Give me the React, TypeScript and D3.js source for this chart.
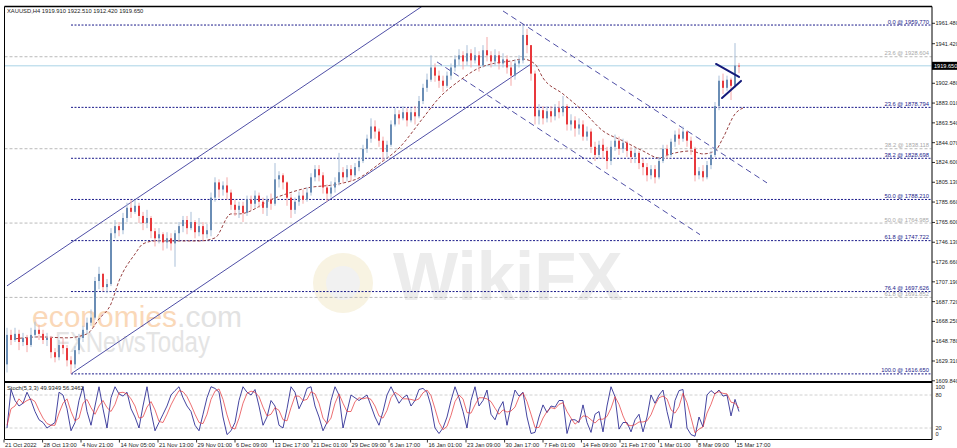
import React from 'react';
import * as d3 from 'd3';

const W = 957;
const H = 448;

const headerText = 'XAUUSD,H4  1919.910 1922.510 1912.420 1919.650';
const stochText = 'Stoch(5,3,3) 49.9349 56.3462';

const firstOpen = 1626;
const closes = [
  1655, 1650, 1656, 1648, 1652, 1645, 1655, 1660, 1656, 1650,
  1652, 1638, 1633, 1645, 1642, 1630, 1626, 1640, 1652, 1660,
  1667, 1672, 1708, 1715, 1702, 1705, 1755, 1762, 1758, 1770,
  1780, 1776, 1782, 1772, 1765, 1770, 1757, 1750, 1754, 1746,
  1750, 1745, 1755, 1762, 1768, 1760, 1766, 1756, 1762, 1754,
  1758, 1790, 1805, 1798, 1802, 1795, 1783, 1778, 1782, 1775,
  1788, 1784, 1792, 1786, 1780, 1788, 1784, 1808, 1812, 1805,
  1790, 1778, 1786, 1792, 1788, 1795, 1810, 1818, 1812, 1800,
  1794, 1800, 1805, 1815, 1810, 1818, 1812, 1820, 1826, 1838,
  1848, 1860, 1855, 1846, 1835, 1842, 1862, 1872, 1868, 1874,
  1866, 1874, 1870, 1885, 1898, 1906, 1918, 1910, 1905, 1900,
  1910, 1918, 1926, 1930, 1924, 1932, 1925, 1930, 1920, 1935,
  1930, 1924, 1930, 1922, 1926, 1918, 1910, 1922, 1925, 1950,
  1940, 1912, 1870, 1876, 1868, 1875, 1870, 1878, 1874, 1880,
  1862, 1866, 1858, 1862, 1850, 1855, 1840, 1832, 1842, 1836,
  1826, 1840, 1846, 1838, 1844, 1836, 1830, 1834, 1824, 1820,
  1812, 1818, 1810, 1826, 1838, 1832, 1845, 1852, 1848, 1855,
  1846, 1838, 1812, 1816, 1810, 1822, 1832, 1880, 1905, 1898,
  1906, 1900, 1919.91, 1919.65,
];
const highs = [
  1662, 1660, 1662, 1660, 1657, 1655, 1662, 1668, 1665, 1660,
  1657, 1654, 1642, 1650, 1652, 1645, 1634, 1644, 1656, 1664,
  1672, 1680, 1712, 1722, 1716, 1710, 1760, 1768, 1766, 1775,
  1785, 1788, 1788, 1785, 1776, 1778, 1772, 1760, 1760, 1756,
  1756, 1755, 1758, 1766, 1772, 1772, 1776, 1768, 1770, 1766,
  1764, 1795, 1810, 1808, 1806, 1810, 1798, 1788, 1786, 1786,
  1792, 1792, 1797, 1795, 1790, 1792, 1794, 1824, 1816, 1814,
  1806, 1794, 1790, 1796, 1798, 1800, 1814, 1822, 1822, 1815,
  1803, 1806, 1810, 1834, 1820, 1822, 1822, 1824, 1830, 1842,
  1852, 1868, 1866, 1858, 1850, 1846, 1866, 1878, 1876, 1880,
  1878, 1878, 1880, 1890, 1902, 1912, 1930, 1922, 1915, 1910,
  1914, 1922, 1930, 1936, 1934, 1940, 1936, 1938, 1934, 1940,
  1948, 1934, 1936, 1934, 1932, 1930, 1924, 1926, 1930, 1959.77,
  1956, 1940, 1915, 1882, 1880, 1880, 1880, 1882, 1885, 1890,
  1882, 1872, 1870, 1868, 1866, 1860, 1858, 1845, 1846, 1848,
  1840, 1846, 1852, 1850, 1848, 1846, 1840, 1838, 1836, 1828,
  1824, 1822, 1822, 1830, 1842, 1842, 1848, 1856, 1858, 1860,
  1856, 1850, 1840, 1820, 1822, 1826, 1836, 1884, 1910, 1912,
  1910, 1908, 1942, 1922.51,
];
const lows = [
  1618, 1645, 1648, 1640, 1644, 1638, 1643, 1652, 1650, 1646,
  1644, 1632, 1628, 1630, 1636, 1624, 1616.65, 1622, 1636, 1648,
  1656, 1664, 1670, 1700, 1698, 1696, 1703, 1750, 1752, 1754,
  1766, 1770, 1774, 1765, 1758, 1760, 1750, 1742, 1745, 1738,
  1740, 1738, 1722, 1748, 1756, 1754, 1758, 1750, 1752, 1748,
  1750, 1752, 1786, 1790, 1792, 1788, 1778, 1772, 1770, 1766,
  1772, 1778, 1780, 1780, 1774, 1772, 1778, 1782, 1800, 1798,
  1782, 1770, 1774, 1782, 1784, 1786, 1792, 1806, 1806, 1794,
  1786, 1790, 1795, 1802, 1804, 1806, 1806, 1810, 1816, 1824,
  1834, 1844, 1848, 1840, 1826, 1828, 1840, 1860, 1862, 1866,
  1860, 1864, 1862, 1868, 1882, 1894, 1904, 1904, 1898, 1894,
  1898, 1906, 1914, 1920, 1916, 1920, 1918, 1922, 1914, 1918,
  1924, 1918, 1920, 1916, 1918, 1912, 1900, 1906, 1918, 1922,
  1932, 1905, 1862, 1862, 1862, 1864, 1864, 1866, 1868, 1870,
  1856, 1856, 1850, 1852, 1846, 1846, 1834, 1826, 1828, 1828,
  1818, 1822, 1836, 1832, 1834, 1830, 1824, 1824, 1818, 1812,
  1806, 1808, 1804, 1808, 1824, 1828, 1830, 1840, 1842, 1845,
  1840, 1832, 1806, 1808, 1806, 1808, 1818, 1830, 1876, 1892,
  1895, 1886, 1898, 1912.42,
];

// moving average
const maIndex = [2, 8, 15, 20, 23, 26, 28, 32, 34, 37, 42, 48, 52, 56, 58, 67, 75, 83, 88, 93, 98, 104, 108, 113, 118, 121, 126, 129, 132, 134, 139, 144, 149, 154, 159, 163, 166, 171, 174, 177, 179, 182, 184];
const maValue = [1651.1, 1653.0, 1652.1, 1656.0, 1670.7, 1685.5, 1708.1, 1734.6, 1744.5, 1747.4, 1747.4, 1747.4, 1750.4, 1774.0, 1774.0, 1789.7, 1799.5, 1803.5, 1809.4, 1823.1, 1838.8, 1868.3, 1888.0, 1904.7, 1917.5, 1921.4, 1924.4, 1926.3, 1921.4, 1907.7, 1892.0, 1875.2, 1855.6, 1845.8, 1835.9, 1829.1, 1833.0, 1835.9, 1833.0, 1835.9, 1848.7, 1872.3, 1878.2];

const stochMain = [
  20, 90, 70, 60, 65, 85, 70, 50, 35, 30,
  20, 25, 30, 85, 80, 55, 15, 30, 70, 95,
  50, 25, 60, 95, 55, 20, 75, 95, 82, 78,
  85, 55, 40, 20, 60, 95, 50, 15, 30, 45,
  60, 80, 88, 95, 75, 60, 50, 25, 15, 45,
  75, 95, 92, 85, 40, 8, 15, 30, 70, 95,
  85, 80, 90, 60, 25, 40, 70, 60, 25, 20,
  55, 95, 85, 55, 70, 92, 95, 60, 40, 15,
  30, 70, 95, 80, 20, 50, 80, 75, 70, 75,
  80, 60, 40, 25, 50, 80, 95, 80, 65, 75,
  80, 60, 70, 90, 92, 85, 60, 20, 10, 20,
  40, 70, 95, 75, 50, 20, 70, 95, 60, 70,
  89, 45, 35, 55, 68, 25, 60, 89, 78, 85,
  40, 10, 12, 40, 62, 48, 60, 58, 70, 70,
  10, 35, 35, 30, 62, 30, 12, 45, 50, 13,
  60, 95, 77, 18, 30, 30, 13, 35, 45, 13,
  40, 80, 65, 80, 89, 50, 20, 70, 88, 90,
  20, 8, 5, 40, 22, 80, 88, 82, 89, 78,
  80, 42, 72, 49.93,
];
const stochSignal = [
  25, 55, 60, 73, 65, 70, 73, 68, 52, 38,
  28, 25, 25, 47, 65, 73, 50, 33, 38, 65,
  72, 57, 45, 60, 70, 57, 50, 63, 84, 85,
  82, 73, 60, 38, 40, 58, 68, 53, 32, 30,
  45, 62, 76, 88, 86, 77, 62, 45, 30, 28,
  45, 72, 87, 91, 72, 44, 21, 18, 38, 65,
  83, 87, 85, 77, 58, 42, 45, 57, 52, 35,
  33, 57, 78, 78, 70, 72, 86, 82, 65, 38,
  28, 38, 65, 82, 65, 50, 50, 68, 75, 73,
  75, 72, 60, 42, 38, 52, 75, 85, 80, 73,
  73, 72, 70, 73, 84, 89, 79, 55, 30, 17,
  23, 43, 68, 80, 73, 48, 47, 62, 75, 75,
  73, 68, 56, 45, 53, 49, 51, 58, 76, 84,
  68, 45, 21, 21, 38, 50, 57, 55, 63, 66,
  50, 38, 27, 33, 42, 41, 35, 29, 36, 36,
  41, 56, 77, 63, 42, 26, 24, 26, 31, 31,
  33, 44, 62, 75, 78, 73, 53, 47, 59, 83,
  66, 39, 11, 18, 22, 47, 63, 83, 86, 83,
  82, 67, 65, 56.35,
];

const priceTicks = [1961.48, 1941.42, 1902.48, 1883.01, 1863.54, 1844.07, 1824.6, 1805.13, 1785.66, 1765.6, 1746.13, 1726.66, 1707.19, 1687.72, 1668.25, 1648.78, 1629.31, 1609.84];
const lastPrice = 1919.65;

const timeLabels = ['21 Oct 2022', '28 Oct 13:00', '4 Nov 21:00', '14 Nov 05:00', '21 Nov 13:00', '29 Nov 01:00', '6 Dec 09:00', '13 Dec 17:00', '21 Dec 01:00', '29 Dec 09:00', '6 Jan 17:00', '16 Jan 01:00', '23 Jan 09:00', '30 Jan 17:00', '7 Feb 01:00', '14 Feb 09:00', '21 Feb 17:00', '1 Mar 01:00', '8 Mar 09:00', '15 Mar 17:00'];
const timeIndex = [-0.75, 8.9, 18.5, 28.1, 37.75, 47.4, 57, 66.6, 76.25, 85.9, 95.5, 105.1, 114.75, 124.4, 134, 143.6, 153.25, 162.9, 172.5, 182.1];

const fibLevels = ['0.0', '23.6', '38.2', '50.0', '61.8', '76.4', '100.0'];
const fibPrices = [1959.77, 1878.794, 1828.698, 1788.21, 1747.722, 1697.626, 1616.65];
const fibAnchorIndex = 16;
const fib2Levels = ['23.6', '38.2', '50.0', '61.8'];
const fib2Prices = [1928.604, 1838.118, 1764.985, 1691.852];

const stochLevels = [80, 20];
const stochAxis = [100, 80, 20, 0];

// trend lines: [index1, price1, index2, price2]
const channelUp = [
  [0, 1703.2, 110, 1994.7],
  [16, 1616.65, 131, 1921.4],
];
const channelDown = [
  [124, 1973.6, 190, 1804.5],
  [107.5, 1923.5, 173.25, 1753.6],
];
const pennant = [
  [177.25, 1921.5, 183, 1908.7],
  [178.75, 1888.0, 183.5, 1904.8],
];

const FONT = 'Liberation Sans, Arial, sans-serif';
const NAVY = '#1b1b8a';

export default function App() {
  const left = 4.5;
  const right = 932;
  const mainTop = 6.5;
  const mainBottom = 382;
  const stochBottom = 439.5;

  const x = d3.scaleLinear().domain([0, 183]).range([7, 739]);
  const y = d3.scaleLinear().domain([1609.84, 1961.48]).range([380.8, 23.3]);
  const ys = d3.scaleLinear().domain([0, 100]).range([439, 384]);

  const candles = closes.map((c, i) => {
    const o = i === 0 ? firstOpen : closes[i - 1];
    return { i, o, c, h: highs[i], l: lows[i] };
  });

  const maLine = d3
    .line<number>()
    .x((_, k) => x(maIndex[k]))
    .y((v) => y(v))
    .curve(d3.curveMonotoneX)(maValue);

  const stochLine = d3
    .line<number>()
    .x((_, k) => x(k))
    .y((v) => ys(v));

  const seg = (s: number[]) => ({ x1: x(s[0]), y1: y(s[1]), x2: x(s[2]), y2: y(s[3]) });
  const lastY = y(lastPrice);

  return (
    <svg
      width={W}
      height={H}
      style={{ position: 'fixed', left: 0, top: 0, background: '#fff' }}
      fontFamily={FONT}
    >
      <defs>
        <clipPath id="mainClip">
          <rect x={left + 0.5} y={mainTop + 0.5} width={right - left - 1} height={mainBottom - mainTop - 1.5} />
        </clipPath>
        <clipPath id="stochClip">
          <rect x={left + 0.5} y={383.5} width={right - left - 1} height={stochBottom - 384} />
        </clipPath>
      </defs>
      <rect x={0} y={0} width={W} height={H} fill="#fff" />

      {/* watermarks */}
      <g clipPath="url(#mainClip)">
        <circle cx={343} cy={283} r={30} fill="#f8f3e2" />
        <circle cx={343} cy={283} r={17} fill="#f1f1f1" />
        <text x={393} y={300} fontSize={69} fontWeight="bold" fill="#ececec" fontFamily={FONT}>
          WikiFX
        </text>
        <text x={32} y={327} fontSize={30} fill="#fad8b8" fontFamily={FONT}>
          economies<tspan fill="#e2e2e2">.com</tspan>
        </text>
        <text x={55} y={352} fontSize={30} fill="#e4e4e4" fontFamily={FONT} textLength={155} lengthAdjust="spacingAndGlyphs">
          FXNewsToday
        </text>
      </g>

      <g clipPath="url(#mainClip)">
        {/* gray fib levels */}
        {fib2Prices.map((p, k) => (
          <g key={'f2' + k}>
            <line x1={left} x2={right} y1={y(p)} y2={y(p)} stroke="#a8a8a8" strokeWidth={0.8} strokeDasharray="3,2" />
            <text x={929} y={y(p) - 1.5} fontSize={5.8} fill="#a8a8a8" textAnchor="end">
              {fib2Levels[k] + ' @ ' + p.toFixed(3)}
            </text>
          </g>
        ))}
        {/* navy fib levels */}
        {fibPrices.map((p, k) => (
          <g key={'f1' + k}>
            <line x1={x(fibAnchorIndex)} x2={right} y1={y(p)} y2={y(p)} stroke={NAVY} strokeWidth={1} strokeDasharray="2,1.5" />
            <text x={929} y={y(p) - 1.5} fontSize={5.8} fill={NAVY} textAnchor="end">
              {fibLevels[k] + ' @ ' + p.toFixed(3)}
            </text>
          </g>
        ))}

        {/* current price line */}
        <line x1={left} x2={right} y1={lastY} y2={lastY} stroke="#a9d3e6" strokeWidth={1} />

        {/* ascending channel */}
        {channelUp.map((s, k) => {
          const l = seg(s);
          return <line key={'cu' + k} {...l} stroke="#3b3b9c" strokeWidth={0.9} />;
        })}
        {/* descending channel */}
        {channelDown.map((s, k) => {
          const l = seg(s);
          return <line key={'cd' + k} {...l} stroke="#3b3b9c" strokeWidth={0.9} strokeDasharray="6,4" />;
        })}

        {/* moving average */}
        <path d={maLine || ''} fill="none" stroke="#8b2a2a" strokeWidth={0.9} strokeDasharray="3,2" />

        {/* candles */}
        {candles.map((d) => {
          const bull = d.c >= d.o;
          const cx = x(d.i);
          const top = y(Math.max(d.o, d.c));
          const bot = y(Math.min(d.o, d.c));
          return (
            <g key={'c' + d.i}>
              <line x1={cx} x2={cx} y1={y(d.h)} y2={y(d.l)} stroke={bull ? '#a9bfd8' : '#f4a8a8'} strokeWidth={1} />
              <rect
                x={cx - 1}
                y={top}
                width={2}
                height={Math.max(1, bot - top)}
                fill={bull ? '#6a8db5' : '#e8383c'}
              />
            </g>
          );
        })}

        {/* pennant lines */}
        {pennant.map((s, k) => {
          const l = seg(s);
          return <line key={'pn' + k} {...l} stroke="#141a7a" strokeWidth={2} strokeLinecap="round" />;
        })}
      </g>

      {/* header */}
      <text x={7} y={12.5} fontSize={5.8} fill="#222">
        {headerText}
      </text>

      {/* stochastic panel */}
      <g clipPath="url(#stochClip)">
        {stochLevels.map((v) => (
          <line key={'sl' + v} x1={left} x2={right} y1={ys(v)} y2={ys(v)} stroke="#c4c4c4" strokeWidth={0.8} strokeDasharray="3,2" />
        ))}
        <path d={stochLine(stochMain) || ''} fill="none" stroke="#23238f" strokeWidth={0.85} />
        <path d={stochLine(stochSignal) || ''} fill="none" stroke="#e5363a" strokeWidth={0.85} strokeOpacity={0.85} />
      </g>
      <text x={7} y={390} fontSize={5.8} fill="#222">
        {stochText}
      </text>

      {/* frames */}
      <line x1={left} x2={right} y1={mainTop} y2={mainTop} stroke="#000" strokeWidth={1.5} />
      <line x1={left} x2={left} y1={mainTop} y2={stochBottom} stroke="#000" strokeWidth={1} />
      <line x1={right} x2={right} y1={mainTop} y2={stochBottom} stroke="#000" strokeWidth={1} />
      <line x1={left} x2={right} y1={mainBottom} y2={mainBottom} stroke="#000" strokeWidth={2} />
      <line x1={left} x2={right} y1={stochBottom} y2={stochBottom} stroke="#000" strokeWidth={1.2} />

      {/* price axis */}
      {priceTicks.map((p) => (
        <g key={'pt' + p}>
          <line x1={right} x2={right + 3} y1={y(p)} y2={y(p)} stroke="#000" strokeWidth={0.8} />
          <text x={right + 3.5} y={y(p) + 2} fontSize={5.6} fill="#222">
            {p.toFixed(3)}
          </text>
        </g>
      ))}
      <rect x={right} y={lastY - 4} width={W - right} height={8} fill="#000" />
      <text x={right + 2} y={lastY + 2} fontSize={5.6} fill="#fff">
        {lastPrice.toFixed(3)}
      </text>

      {/* stochastic axis */}
      {stochAxis.map((v) => {
        const yy = v === 100 ? 388.5 : v === 0 ? 436 : ys(v) + 2;
        return (
          <text key={'sa' + v} x={right + 3.5} y={yy} fontSize={5.6} fill="#222">
            {v}
          </text>
        );
      })}

      {/* time axis */}
      {timeLabels.map((t, k) => {
        const tx = x(timeIndex[k]);
        return (
          <g key={'tl' + k}>
            <line x1={tx} x2={tx} y1={stochBottom} y2={stochBottom + 3} stroke="#000" strokeWidth={0.8} />
            <text x={tx + 1} y={446.5} fontSize={5.8} fill="#222">
              {t}
            </text>
          </g>
        );
      })}
    </svg>
  );
}
